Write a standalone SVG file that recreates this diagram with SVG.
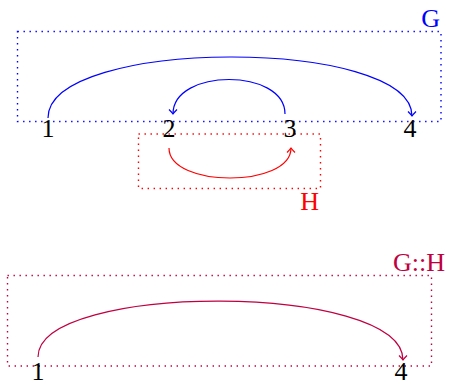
<svg xmlns="http://www.w3.org/2000/svg" width="450" height="381" viewBox="0 0 450 381">
<style>
.box{fill:none;stroke-width:1.4;stroke-dasharray:1.4 4.6}
.edge{fill:none;stroke-width:1.2}
.num{font-family:"Liberation Serif",serif;font-size:26px;fill:#000;text-anchor:middle}
.lbl{font-family:"Liberation Serif",serif;font-size:26px}
</style>
<defs>
<marker id="ab" markerUnits="userSpaceOnUse" markerWidth="12" markerHeight="12" refX="0" refY="0" viewBox="-6 -6 12 12" orient="auto" overflow="visible">
<path d="M-4.5,-4 Q-1.5,-1 0,0 Q-1.5,1 -4.5,4" fill="none" stroke="#0000ff" stroke-width="1.2"/>
</marker>
<marker id="ar" markerUnits="userSpaceOnUse" markerWidth="12" markerHeight="12" refX="0" refY="0" viewBox="-6 -6 12 12" orient="auto" overflow="visible">
<path d="M-4.5,-4 Q-1.5,-1 0,0 Q-1.5,1 -4.5,4" fill="none" stroke="#ff0000" stroke-width="1.2"/>
</marker>
<marker id="ap" markerUnits="userSpaceOnUse" markerWidth="12" markerHeight="12" refX="0" refY="0" viewBox="-6 -6 12 12" orient="auto" overflow="visible">
<path d="M-4.5,-4 Q-1.5,-1 0,0 Q-1.5,1 -4.5,4" fill="none" stroke="#c00040" stroke-width="1.2"/>
</marker>
</defs>
<g id="G">
<rect class="box" x="17.5" y="31.5" width="423.5" height="90" stroke="#0000ff"/>
<text class="lbl" x="440" y="27" text-anchor="end" fill="#0000ff">G</text>
</g>
<g id="H">
<rect class="box" x="138.5" y="134" width="182" height="54.5" stroke="#ff0000"/>
<text class="lbl" x="319" y="210" text-anchor="end" fill="#ff0000">H</text>
</g>
<g id="GH">
<rect class="box" x="7.5" y="275.5" width="424" height="90.5" stroke="#c00040"/>
<text class="lbl" x="445" y="271" text-anchor="end" fill="#c00040">G::H</text>
</g>
<g id="connectors">
<path class="edge" d="M48,118 C48,37 412,37 412,116" stroke="#0000ff" marker-end="url(#ab)"/>
<path class="edge" d="M285,114 C285,68 173,68 173,114" stroke="#0000ff" marker-end="url(#ab)"/>
<path class="edge" d="M169,148 C169,188 291,188 291,148" stroke="#ff0000" marker-end="url(#ar)"/>
<path class="edge" d="M38,357 C38,282 403,282 403,360" stroke="#c00040" marker-end="url(#ap)"/>
</g>
<g id="n1"><text class="num" x="48" y="137">1</text></g>
<g id="n2"><text class="num" x="169" y="137">2</text></g>
<g id="n3"><text class="num" x="290" y="137">3</text></g>
<g id="n4"><text class="num" x="410" y="137">4</text></g>
<g id="m1"><text class="num" x="38" y="380">1</text></g>
<g id="m4"><text class="num" x="401" y="380">4</text></g>
</svg>
